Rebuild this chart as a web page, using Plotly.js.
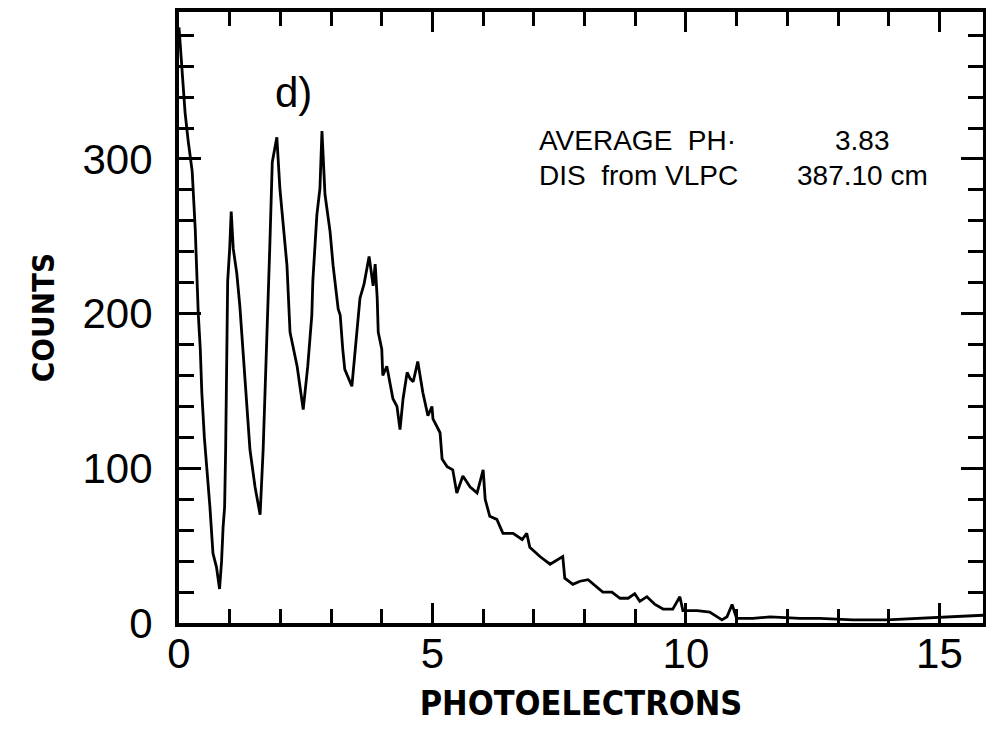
<!DOCTYPE html>
<html>
<head>
<meta charset="utf-8">
<script src="https://cdn.plot.ly/plotly-3.0.1.min.js"></script>
<style>html,body{margin:0;padding:0;background:#fff;}#chart{width:986px;height:736px;}</style>
</head>
<body>
<div id="chart"></div>
<script>
// Photoelectron spectrum, panel d)
const photoelectrons = [0.00,0.06,0.12,0.18,0.26,0.32,0.35,0.38,0.42,0.45,
  0.50,0.55,0.61,0.67,0.74,0.80,0.84,0.87,0.90,0.92,
  0.94,0.96,1.00,1.03,1.07,1.14,1.20,1.30,1.40,1.50,
  1.60,1.66,1.74,1.79,1.84,1.93,1.99,2.13,2.19,2.33,
  2.45,2.54,2.62,2.64,2.72,2.78,2.82,2.88,2.98,3.04,
  3.14,3.18,3.23,3.27,3.41,3.51,3.57,3.65,3.71,3.75,
  3.83,3.87,3.91,3.93,4.00,4.02,4.10,4.22,4.30,4.36,
  4.42,4.50,4.56,4.62,4.71,4.81,4.91,4.99,5.01,5.15,
  5.19,5.29,5.40,5.48,5.60,5.74,5.88,6.00,6.04,6.13,
  6.27,6.39,6.59,6.77,6.86,6.92,7.12,7.32,7.57,7.61,
  7.77,7.91,8.07,8.24,8.36,8.54,8.70,8.86,8.99,9.09,
  9.23,9.39,9.55,9.74,9.88,9.94,10.22,10.47,10.63,10.71,
  10.81,10.91,11.00,11.32,11.66,12.25,12.64,13.29,13.96,14.60,
  15.27,15.86];
const counts = [385,360,330,312,292,255,225,200,177,149,
  120,101,75,45,36,22,40,62,75,112,
  177,221,242,266,242,226,205,156,112,88,
  70,112,188,242,298,314,281,231,188,166,
  138,166,199,221,264,281,318,277,253,231,
  203,199,177,164,153,188,210,219,231,237,
  218,232,210,188,177,160,166,145,140,125,
  145,162,158,156,169,149,134,140,132,123,
  106,101,99,84,95,88,84,99,80,69,
  67,58,58,54,58,49,43,38,43,29,
  25,27,28,23,20,20,16,16,19,14,
  17,12,9,9,17,8,8,7,4,2,
  4,12,3,3,4,3,3,2,2,3,
  4,5];

const xTickVals = [0, 5, 10, 15];
const xTickText = ["0", "5", "10", "15"];
const yTickVals = [0, 100, 200, 300];
const yTickText = ["0", "100", "200", "300"];

const panelLabel = "d)";
const infoLabels = ["AVERAGE&nbsp; PH·", "DIS&nbsp; from VLPC"];
const infoValues = ["3.83", "387.10 cm"];

const trace = {
  x: photoelectrons,
  y: counts,
  type: "scatter",
  mode: "lines",
  line: {color: "#000", width: 2.8},
  hoverinfo: "skip",
  showlegend: false
};

const tickFont = {family: "Liberation Sans, Arial, sans-serif", size: 42, color: "#000"};
const titleFont = {family: "DejaVu Sans Condensed, DejaVu Sans, sans-serif", size: 34, color: "#000", weight: "bold"};
const textFont = {family: "Liberation Sans, Arial, sans-serif", size: 28, color: "#000"};

const layout = {
  width: 986, height: 736,
  margin: {l: 179, r: 3, t: 12, b: 113, pad: 0},
  paper_bgcolor: "#fff", plot_bgcolor: "#fff",
  showlegend: false,
  xaxis: {
    range: [0, 15.86],
    tickmode: "array", tickvals: xTickVals, ticktext: xTickText,
    ticks: "inside", ticklen: 20, tickwidth: 3, tickcolor: "#000",
    minor: {dtick: 1, tick0: 0, ticks: "inside", ticklen: 14, tickwidth: 3, tickcolor: "#000", showgrid: false},
    showline: true, linewidth: 4, linecolor: "#000", mirror: "ticks",
    showgrid: false, zeroline: false,
    tickfont: tickFont, ticklabelstandoff: -9,
    title: {text: "PHOTOELECTRONS", font: titleFont, standoff: 16}
  },
  yaxis: {
    range: [0, 395],
    tickmode: "array", tickvals: yTickVals, ticktext: yTickText,
    ticks: "inside", ticklen: 22, tickwidth: 3, tickcolor: "#000",
    minor: {dtick: 20, tick0: 0, ticks: "inside", ticklen: 15, tickwidth: 3, tickcolor: "#000", showgrid: false},
    showline: true, linewidth: 4, linecolor: "#000", mirror: "ticks",
    showgrid: false, zeroline: false,
    tickfont: tickFont, ticklabelstandoff: 14,
    title: {text: "COUNTS", font: {family: titleFont.family, size: 31, color: "#000", weight: "bold"}, standoff: 20}
  },
  annotations: [
    {x: 2.25, y: 343, xref: "x", yref: "y", text: panelLabel, showarrow: false,
     xanchor: "center", yanchor: "middle", font: {family: "Liberation Sans, Arial, sans-serif", size: 42, color: "#000"}},
    {x: 7.06, y: 312, xref: "x", yref: "y", text: infoLabels[0], showarrow: false,
     xanchor: "left", yanchor: "middle", font: textFont},
    {x: 7.06, y: 289, xref: "x", yref: "y", text: infoLabels[1], showarrow: false,
     xanchor: "left", yanchor: "middle", font: textFont},
    {x: 13.49, y: 312, xref: "x", yref: "y", text: infoValues[0], showarrow: false,
     xanchor: "center", yanchor: "middle", font: textFont},
    {x: 12.15, y: 289, xref: "x", yref: "y", text: infoValues[1], showarrow: false,
     xanchor: "left", yanchor: "middle", font: textFont}
  ]
};

Plotly.newPlot("chart", [trace], layout, {displayModeBar: false, staticPlot: true});
</script>
</body>
</html>
